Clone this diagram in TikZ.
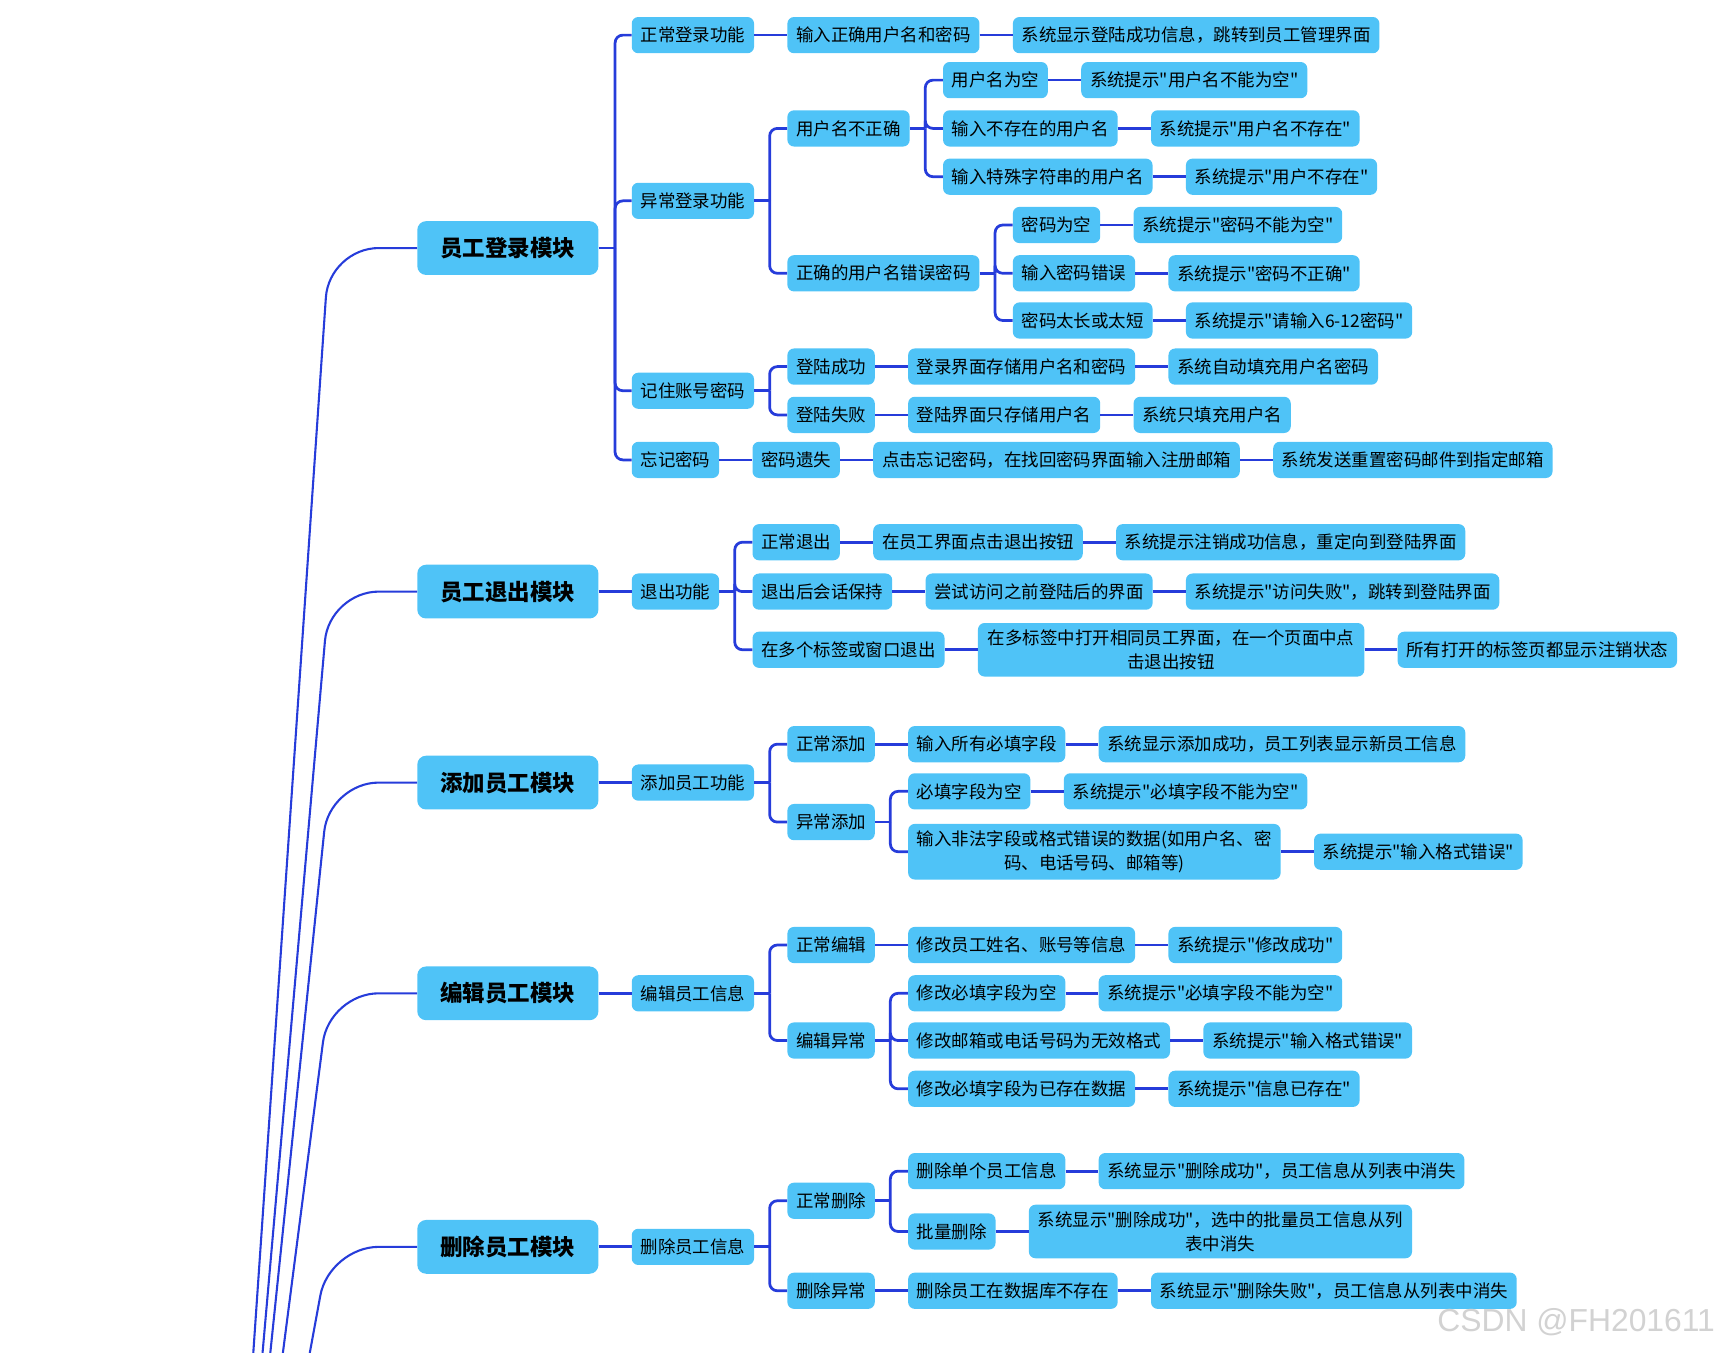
\documentclass[tikz,border=0pt]{standalone}
\usepackage{fontspec}
\setmainfont{Noto Sans CJK SC}[Ligatures=TeXOff]
\newfontfamily\wmfont{Liberation Sans}
\usetikzlibrary{positioning}
\definecolor{nodeblue}{RGB}{79,195,247}
\definecolor{linkblue}{RGB}{38,60,218}

\begin{document}
\begin{tikzpicture}[
    x=1pt, y=1pt,
    module/.style={rectangle, fill=nodeblue, rounded corners=8pt, minimum width=165pt, minimum height=49pt, font=\fontsize{20.5}{24}\selectfont\bfseries},
    entry/.style={rectangle, fill=nodeblue, rounded corners=6pt, minimum height=33pt, inner xsep=8pt, inner ysep=6pt, align=center, font=\fontsize{15.9}{22}\selectfont},
    link/.style={draw=linkblue, line width=2.5pt},
    trunk/.style={draw=linkblue, line width=1.9pt, rounded corners=45pt},
    node distance=30pt
]
    \useasboundingbox (0,0) rectangle (1568,-1232);

    % modules
    \node[module, anchor=west] (m1) at (380,-226) {员工登录模块};
    \node[module, anchor=west] (m2) at (380,-539) {员工退出模块};
    \node[module, anchor=west] (m3) at (380,-713) {添加员工模块};
    \node[module, anchor=west] (m4) at (380,-905) {编辑员工模块};
    \node[module, anchor=west] (m5) at (380,-1136) {删除员工模块};

    % login
    \node[entry, right=of m1, yshift=194pt] (a1) {正常登录功能};
    \node[entry, right=of a1] (a11) {输入正确用户名和密码};
    \node[entry, right=of a11] (a111) {系统显示登陆成功信息，跳转到员工管理界面};
    \node[entry, right=of m1, yshift=43pt] (a2) {异常登录功能};
    \node[entry, right=of a2, yshift=66pt] (a21) {用户名不正确};
    \node[entry, right=of a21, yshift=44pt] (a211) {用户名为空};
    \node[entry, right=of a211] (a2111) {系统提示"用户名不能为空"};
    \node[entry, right=of a21] (a212) {输入不存在的用户名};
    \node[entry, right=of a212] (a2121) {系统提示"用户名不存在"};
    \node[entry, right=of a21, yshift=-44pt] (a213) {输入特殊字符串的用户名};
    \node[entry, right=of a213] (a2131) {系统提示"用户不存在"};
    \node[entry, right=of a2, yshift=-66pt] (a22) {正确的用户名错误密码};
    \node[entry, right=of a22, yshift=44pt] (a221) {密码为空};
    \node[entry, right=of a221] (a2211) {系统提示"密码不能为空"};
    \node[entry, right=of a22] (a222) {输入密码错误};
    \node[entry, right=of a222] (a2221) {系统提示"密码不正确"};
    \node[entry, right=of a22, yshift=-43pt] (a223) {密码太长或太短};
    \node[entry, right=of a223] (a2231) {系统提示"请输入6-12密码"};
    \node[entry, right=of m1, yshift=-130pt] (a3) {记住账号密码};
    \node[entry, right=of a3, yshift=22pt] (a31) {登陆成功};
    \node[entry, right=of a31] (a311) {登录界面存储用户名和密码};
    \node[entry, right=of a311] (a3111) {系统自动填充用户名密码};
    \node[entry, right=of a3, yshift=-22pt] (a32) {登陆失败};
    \node[entry, right=of a32] (a321) {登陆界面只存储用户名};
    \node[entry, right=of a321] (a3211) {系统只填充用户名};
    \node[entry, right=of m1, yshift=-193pt] (a4) {忘记密码};
    \node[entry, right=of a4] (a41) {密码遗失};
    \node[entry, right=of a41] (a411) {点击忘记密码，在找回密码界面输入注册邮箱};
    \node[entry, right=of a411] (a4111) {系统发送重置密码邮件到指定邮箱};

    % logout
    \node[entry, right=of m2] (b1) {退出功能};
    \node[entry, right=of b1, yshift=45pt] (b11) {正常退出};
    \node[entry, right=of b11] (b111) {在员工界面点击退出按钮};
    \node[entry, right=of b111] (b1111) {系统提示注销成功信息，重定向到登陆界面};
    \node[entry, right=of b1] (b12) {退出后会话保持};
    \node[entry, right=of b12] (b121) {尝试访问之前登陆后的界面};
    \node[entry, right=of b121] (b1211) {系统提示"访问失败"，跳转到登陆界面};
    \node[entry, right=of b1, yshift=-53pt] (b13) {在多个标签或窗口退出};
    \node[entry, right=of b13, minimum width=352pt] (b131) {在多标签中打开相同员工界面，在一个页面中点\\击退出按钮};
    \node[entry, right=of b131] (b1311) {所有打开的标签页都显示注销状态};

    % add
    \node[entry, right=of m3] (c1) {添加员工功能};
    \node[entry, right=of c1, yshift=35pt] (c11) {正常添加};
    \node[entry, right=of c11] (c111) {输入所有必填字段};
    \node[entry, right=of c111] (c1111) {系统显示添加成功，员工列表显示新员工信息};
    \node[entry, right=of c1, yshift=-36pt] (c12) {异常添加};
    \node[entry, right=of c12, yshift=28pt] (c121) {必填字段为空};
    \node[entry, right=of c121] (c1211) {系统提示"必填字段不能为空"};
    \node[entry, right=of c12, yshift=-27pt] (c122) {输入非法字段或格式错误的数据(如用户名、密\\码、电话号码、邮箱等)};
    \node[entry, right=of c122] (c1221) {系统提示"输入格式错误"};

    % edit
    \node[entry, right=of m4] (d1) {编辑员工信息};
    \node[entry, right=of d1, yshift=44pt] (d11) {正常编辑};
    \node[entry, right=of d11] (d111) {修改员工姓名、账号等信息};
    \node[entry, right=of d111] (d1111) {系统提示"修改成功"};
    \node[entry, right=of d1, yshift=-43pt] (d12) {编辑异常};
    \node[entry, right=of d12, yshift=43pt] (d121) {修改必填字段为空};
    \node[entry, right=of d121] (d1211) {系统提示"必填字段不能为空"};
    \node[entry, right=of d12] (d122) {修改邮箱或电话号码为无效格式};
    \node[entry, right=of d122] (d1221) {系统提示"输入格式错误"};
    \node[entry, right=of d12, yshift=-44pt] (d123) {修改必填字段为已存在数据};
    \node[entry, right=of d123] (d1231) {系统提示"信息已存在"};

    % delete
    \node[entry, right=of m5] (e1) {删除员工信息};
    \node[entry, right=of e1, yshift=42pt] (e11) {正常删除};
    \node[entry, right=of e11, yshift=27pt] (e111) {删除单个员工信息};
    \node[entry, right=of e111] (e1111) {系统显示"删除成功"，员工信息从列表中消失};
    \node[entry, right=of e11, yshift=-28pt] (e112) {批量删除};
    \node[entry, right=of e112] (e1121) {系统显示"删除成功"，选中的批量员工信息从列\\表中消失};
    \node[entry, right=of e1, yshift=-40pt] (e12) {删除异常};
    \node[entry, right=of e12] (e121) {删除员工在数据库不存在};
    \node[entry, right=of e121] (e1211) {系统显示"删除失败"，员工信息从列表中消失};

    % brackets
    \coordinate[right=15pt of m1] (m1j);
    \draw[link] (m1) -- (m1j);
    \foreach \c in {a1,a2,a3,a4} \draw[link, rounded corners=7pt] (m1j) |- (\c.west);
    \foreach \p/\cs in {a2/{a21,a22}, a21/{a211,a212,a213}, a22/{a221,a222,a223}, a3/{a31,a32},
                        b1/{b11,b12,b13}, c1/{c11,c12}, c12/{c121,c122},
                        d1/{d11,d12}, d12/{d121,d122,d123}, e1/{e11,e12}, e11/{e111,e112}} {
        \coordinate[right=14pt of \p] (\p j);
        \draw[link] (\p) -- (\p j);
        \foreach \c in \cs \draw[link, rounded corners=7pt] (\p j) |- (\c.west);
    }

    % straight links
    \foreach \a/\b in {a1/a11, a11/a111, a211/a2111, a212/a2121, a213/a2131,
                       a221/a2211, a222/a2221, a223/a2231, a31/a311, a311/a3111,
                       a32/a321, a321/a3211, a4/a41, a41/a411, a411/a4111,
                       m2/b1, b11/b111, b111/b1111, b12/b121, b121/b1211, b13/b131, b131/b1311,
                       m3/c1, c11/c111, c111/c1111, c121/c1211, c122/c1221,
                       m4/d1, d11/d111, d111/d1111, d121/d1211, d122/d1221, d123/d1231,
                       m5/e1, e111/e1111, e112/e1121, e12/e121, e121/e1211}
        \draw[link] (\a) -- (\b);

    % trunk lines from the root below
    \coordinate (root) at (200,-1680);
    \begin{scope}
        \clip (0,0) rectangle (1568,-1232);
        \foreach \m in {m1,m2,m3,m4,m5}
            \draw[trunk] (root) -- ([xshift=-80pt]\m.west) -- (\m.west);
    \end{scope}

    \node[anchor=west, text=gray!35, font=\wmfont\fontsize{29}{29}\selectfont] (wm) at (1306,-1205) {CSDN @FH201611};
\end{tikzpicture}
\end{document}
